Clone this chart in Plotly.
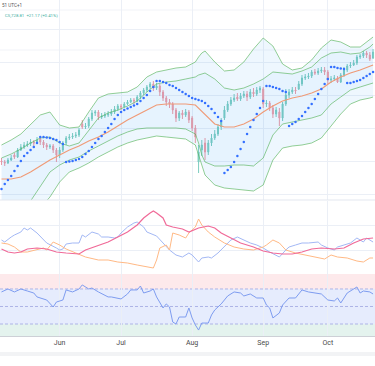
import plotly.graph_objects as go

# ---------------- data ----------------
month_ticks = [18, 37, 59, 81, 101]
month_labels = ["Jun", "Jul", "Aug", "Sep", "Oct"]

opens = [5402, 5399, 5396, 5405, 5420, 5414, 5435, 5444, 5450, 5453,
         5459, 5456, 5468, 5459, 5450, 5444, 5447, 5435, 5420, 5435,
         5456, 5471, 5474, 5477, 5480, 5513, 5504, 5507, 5528, 5546,
         5549, 5534, 5537, 5540, 5543, 5549, 5558, 5567, 5564, 5573,
         5579, 5585, 5582, 5594, 5606, 5615, 5624, 5633, 5621, 5627,
         5609, 5591, 5579, 5573, 5555, 5531, 5546, 5540, 5549, 5531,
         5501, 5399, 5435, 5456, 5429, 5456, 5471, 5483, 5504, 5531,
         5555, 5573, 5585, 5594, 5588, 5597, 5603, 5594, 5609, 5603,
         5615, 5618, 5573, 5576, 5561, 5543, 5549, 5531, 5573, 5600,
         5609, 5615, 5618, 5633, 5651, 5654, 5657, 5669, 5666, 5672,
         5675, 5669, 5645, 5648, 5651, 5639, 5660, 5675, 5687, 5690,
         5696, 5714, 5717, 5726, 5720, 5711]
closes = [5399, 5396, 5405, 5411, 5414, 5435, 5444, 5450, 5453, 5459,
          5456, 5465, 5459, 5450, 5444, 5447, 5435, 5420, 5435, 5456,
          5471, 5474, 5477, 5480, 5495, 5504, 5507, 5528, 5546, 5549,
          5534, 5537, 5540, 5543, 5549, 5558, 5567, 5564, 5573, 5579,
          5585, 5582, 5594, 5606, 5615, 5624, 5633, 5621, 5627, 5609,
          5591, 5579, 5573, 5555, 5531, 5546, 5540, 5549, 5525, 5501,
          5474, 5429, 5450, 5429, 5456, 5471, 5483, 5504, 5519, 5555,
          5573, 5585, 5591, 5588, 5597, 5603, 5594, 5609, 5603, 5615,
          5621, 5573, 5576, 5561, 5543, 5555, 5531, 5573, 5600, 5609,
          5615, 5612, 5633, 5651, 5654, 5657, 5669, 5666, 5672, 5675,
          5669, 5645, 5648, 5651, 5639, 5660, 5675, 5687, 5690, 5696,
          5714, 5717, 5726, 5720, 5707.64, 5728.81]
highs = [5411, 5405, 5411, 5420, 5426, 5441, 5453, 5459, 5462, 5468,
         5465, 5474, 5471, 5465, 5456, 5453, 5453, 5441, 5444, 5462,
         5477, 5483, 5486, 5489, 5501, 5525, 5516, 5534, 5555, 5555,
         5555, 5546, 5549, 5552, 5558, 5567, 5573, 5573, 5579, 5585,
         5591, 5591, 5600, 5612, 5621, 5630, 5639, 5642, 5636, 5633,
         5615, 5597, 5588, 5579, 5561, 5552, 5555, 5558, 5555, 5537,
         5510, 5450, 5465, 5471, 5465, 5483, 5495, 5513, 5531, 5567,
         5582, 5594, 5603, 5606, 5606, 5612, 5612, 5618, 5621, 5624,
         5627, 5624, 5585, 5582, 5570, 5564, 5561, 5579, 5618, 5618,
         5624, 5624, 5642, 5660, 5663, 5666, 5675, 5678, 5681, 5684,
         5684, 5675, 5657, 5660, 5657, 5666, 5684, 5693, 5699, 5705,
         5720, 5723, 5732, 5732, 5729, 5738]
lows = [5390, 5387, 5393, 5402, 5408, 5411, 5432, 5438, 5444, 5447,
        5447, 5453, 5450, 5441, 5435, 5438, 5426, 5399, 5411, 5429,
        5450, 5465, 5468, 5471, 5474, 5498, 5498, 5501, 5522, 5537,
        5525, 5528, 5531, 5534, 5537, 5543, 5552, 5555, 5564, 5570,
        5576, 5573, 5579, 5588, 5600, 5609, 5618, 5612, 5615, 5597,
        5582, 5567, 5561, 5543, 5519, 5522, 5528, 5534, 5516, 5492,
        5456, 5366, 5417, 5405, 5420, 5447, 5465, 5477, 5495, 5525,
        5549, 5567, 5579, 5582, 5582, 5591, 5582, 5588, 5594, 5597,
        5606, 5561, 5564, 5552, 5531, 5534, 5507, 5522, 5567, 5591,
        5603, 5603, 5615, 5627, 5645, 5648, 5651, 5660, 5660, 5666,
        5660, 5633, 5636, 5642, 5636, 5636, 5654, 5669, 5681, 5687,
        5690, 5708, 5711, 5711, 5702, 5708]

sar = [5318, 5333, 5345, 5357, 5372, 5387, 5402, 5417, 5426, 5435,
       5444, 5456, 5474, 5474, 5472.5, 5471, 5468, 5465, 5459, 5453,
       5399, 5400.5, 5402, 5405, 5408, 5414, 5423, 5432, 5444, 5456,
       5468, 5477, 5489, 5501, 5513, 5528, 5540, 5549, 5555, 5559.5,
       5564, 5568.5, 5573, 5582, 5591, 5600, 5612, 5624, 5642, 5642,
       5639, 5636, 5630, 5627, 5621, 5615, 5609, 5603, 5597, 5591,
       5588, 5585, 5582, 5576, 5567, 5558, 5546, 5534, 5522, 5366,
       5375, 5384, 5399, 5417, 5438, 5459, 5483, 5504, 5525, 5543,
       5561, 5582, 5627, 5627, 5624, 5621, 5618, 5612, 5609, 5507,
       5513, 5519, 5528, 5537, 5549, 5561, 5573, 5588, 5603, 5618,
       5633, 5648, 5684, 5684, 5681, 5679.5, 5678, 5636, 5636, 5639,
       5642, 5645, 5651, 5657, 5663, 5669]

band_idx = [0, 3, 6, 9, 12, 15, 18, 21, 24, 27, 30, 33, 36, 39, 42, 45, 48, 51, 54, 57,
            60, 61, 62, 63, 66, 69, 72, 75, 78, 81, 84, 87, 90, 93, 96, 99, 102, 105,
            108, 111, 114, 115]
bb_outer_upper = [5450, 5465, 5483, 5513, 5540, 5549, 5510, 5501, 5504, 5549, 5591, 5603,
                  5606, 5609, 5624, 5654, 5669, 5675, 5681, 5684, 5699, 5714, 5726, 5732,
                  5699, 5672, 5675, 5699, 5738, 5771, 5747, 5693, 5675, 5681, 5705, 5741,
                  5765, 5759, 5744, 5744, 5765, 5774]
bb_inner_upper = [5411, 5423, 5438, 5456, 5471, 5474, 5456, 5447, 5456, 5495, 5531, 5546,
                  5555, 5567, 5582, 5609, 5633, 5639, 5642, 5648, 5654, 5660, 5663, 5666,
                  5648, 5621, 5615, 5621, 5633, 5648, 5669, 5666, 5663, 5672, 5684, 5711,
                  5726, 5729, 5723, 5726, 5744, 5753]
bb_basis = [5348, 5348, 5354, 5369, 5387, 5405, 5420, 5435, 5447, 5462, 5474, 5489,
            5507, 5525, 5540, 5555, 5570, 5573, 5573, 5573, 5570, 5561, 5552, 5543,
            5513, 5504, 5504, 5513, 5528, 5549, 5567, 5582, 5591, 5597, 5606, 5618,
            5639, 5654, 5666, 5675, 5687, 5690]
bb_inner_lower = [5267, 5267, 5267, 5282, 5324, 5369, 5390, 5405, 5414, 5432, 5447, 5462,
                  5477, 5489, 5498, 5501, 5501, 5501, 5501, 5498, 5483, 5456, 5420, 5399,
                  5387, 5387, 5390, 5390, 5387, 5411, 5480, 5513, 5519, 5525, 5531, 5540,
                  5573, 5594, 5615, 5624, 5633, 5636]
bb_outer_lower = [5210, 5219, 5225, 5240, 5261, 5294, 5339, 5369, 5381, 5396, 5414, 5429,
                  5444, 5456, 5465, 5471, 5477, 5474, 5471, 5468, 5450, 5420, 5390, 5360,
                  5330, 5321, 5318, 5315, 5312, 5330, 5405, 5441, 5447, 5450, 5456, 5471,
                  5507, 5543, 5573, 5585, 5591, 5594]

dmi_plus_idx = [0, 1, 3, 4, 6, 7, 8, 9, 11, 13, 14, 17, 18, 19, 20, 22, 24, 25, 26, 28,
                30, 31, 33, 35, 36, 37, 39, 41, 42, 44, 45, 48, 50, 52, 54, 56, 58, 59, 61, 62,
                64, 65, 67, 69, 71, 73, 75, 77, 79, 81, 83, 85, 86, 88, 89, 91, 93, 95, 98, 99,
                101, 103, 104, 106, 108, 110, 112, 113, 115]
dmi_plus = [24.0, 23.2, 25.2, 26.0, 27.2, 28.8, 28.0, 28.8, 26.8, 24.0,
            22.8, 20.8, 20.0, 20.4, 22.4, 22.8, 22.8, 26.0, 25.2, 27.2,
            26.4, 25.2, 25.2, 24.8, 25.2, 26.8, 29.2, 30.8, 31.2, 29.2,
            27.2, 25.6, 22.8, 20.0, 18.0, 17.2, 18.8, 18.0, 15.2, 16.8,
            17.2, 16.8, 18.8, 21.6, 24.0, 25.2, 24.0, 22.8, 22.0, 20.8,
            19.2, 18.0, 17.2, 20.0, 21.2, 22.0, 22.8, 22.8, 23.2, 22.0,
            20.8, 20.0, 21.2, 22.0, 22.8, 24.8, 23.2, 24.8, 23.2]

adx_idx = [0, 2, 4, 6, 8, 11, 14, 17, 20, 24, 26, 30, 33, 36, 39, 42, 44, 46, 47, 48,
           50, 51, 53, 56, 58, 61, 64, 66, 68, 71, 74, 78, 81, 84, 87, 90, 93, 96, 99, 103,
           106, 109, 112, 115]
adx = [20.4, 19.2, 18.8, 19.2, 20.4, 20.8, 20.4, 19.2, 18.8, 18.4,
       20.0, 22.0, 23.2, 25.2, 27.2, 30.0, 32.8, 34.8, 35.6, 34.8,
       32.8, 30.0, 29.2, 28.4, 27.2, 28.8, 29.6, 28.8, 26.8, 24.8,
       22.8, 21.2, 19.6, 18.8, 18.4, 18.4, 19.2, 20.4, 20.8, 20.4,
       20.8, 22.8, 24.4, 24.8]

dmi_minus_idx = [0, 2, 4, 6, 8, 11, 13, 14, 16, 18, 20, 23, 26, 30, 33, 36, 39, 42, 45, 47,
                 48, 49, 51, 52, 53, 55, 57, 58, 60, 61, 62, 64, 66, 69, 72, 75, 78, 81, 82, 84,
                 86, 88, 91, 95, 98, 100, 102, 104, 107, 110, 112, 114, 115]
dmi_minus = [22.8, 22.4, 21.2, 19.2, 19.2, 20.0, 20.8, 20.0, 23.2, 22.0,
             20.4, 18.8, 17.2, 16.0, 16.0, 15.2, 14.8, 14.0, 13.2, 12.8,
             16.0, 20.8, 22.0, 20.0, 26.8, 26.0, 24.8, 26.8, 29.2, 32.4,
             30.0, 27.2, 25.2, 22.8, 21.2, 20.4, 20.0, 21.2, 22.0, 24.0,
             22.8, 20.0, 18.8, 17.6, 16.8, 16.4, 18.0, 17.2, 16.8, 15.6,
             15.2, 16.8, 16.8]

rsi_idx = [0, 2, 4, 6, 8, 10, 11, 12, 14, 16, 17, 19, 20, 22, 24, 25, 27, 28, 30, 33,
           34, 37, 39, 40, 42, 43, 44, 46, 47, 48, 49, 50, 51, 52, 53, 54, 55, 57, 58, 59,
           60, 61, 62, 64, 65, 66, 68, 70, 72, 74, 75, 77, 79, 81, 82, 83, 84, 86, 87, 89,
           91, 93, 95, 97, 99, 101, 103, 104, 105, 107, 108, 110, 111, 112, 114, 115]
rsi = [66.6, 70.0, 66.6, 70.0, 67.7, 65.4, 60.9, 59.7, 57.4, 49.4,
       55.1, 57.4, 68.9, 66.6, 70.0, 74.6, 70.0, 71.1, 66.6, 60.9,
       60.9, 58.6, 64.3, 68.9, 68.9, 73.4, 65.4, 67.7, 70.0, 60.9,
       54.0, 48.3, 52.9, 49.4, 32.3, 30.0, 38.0, 38.0, 48.3, 36.9,
       28.9, 23.1, 31.1, 31.1, 40.3, 46.0, 52.9, 62.0, 66.6, 65.4,
       62.0, 64.3, 59.7, 59.7, 51.7, 48.3, 36.9, 42.6, 51.7, 59.7,
       59.7, 68.9, 66.6, 65.4, 64.3, 57.4, 56.3, 59.7, 54.0, 65.4,
       67.7, 72.3, 65.4, 67.7, 66.6, 64.3]
rsi_levels = [70, 50, 30]

price_grid = [5303, 5402, 5501, 5600, 5699, 5798]
header_time = "51 UTC+1"
header_quote = "C5,728.81  +21.17 (+0.41%)"

# ---------------- styling ----------------
W, H = 375, 366
GRID = "#EBEFF6"
GREEN = "rgba(76,175,80,0.6)"
ORANGE = "#F09A76"
UP = "#7CCDBF"
DOWN = "#F29AA2"
FONT = "Roboto"


def py(px):
    return 1 - px / H


bars = list(range(len(closes)))
XR = [-0.46, 115.6]

fig = go.Figure()

# Bollinger-type envelopes
fig.add_trace(go.Scatter(x=band_idx, y=bb_outer_lower, mode="lines",
                         line=dict(color=GREEN, width=1), hoverinfo="skip"))
fig.add_trace(go.Scatter(x=band_idx, y=bb_outer_upper, mode="lines",
                         line=dict(color=GREEN, width=1), fill="tonexty",
                         fillcolor="rgba(33,150,243,0.075)", hoverinfo="skip"))
fig.add_trace(go.Scatter(x=band_idx, y=bb_inner_lower, mode="lines",
                         line=dict(color=GREEN, width=1), hoverinfo="skip"))
fig.add_trace(go.Scatter(x=band_idx, y=bb_inner_upper, mode="lines",
                         line=dict(color=GREEN, width=1), fill="tonexty",
                         fillcolor="rgba(33,150,243,0.035)", hoverinfo="skip"))

fig.add_trace(go.Candlestick(
    x=bars, open=opens, high=highs, low=lows, close=closes,
    increasing=dict(line=dict(color=UP, width=1), fillcolor=UP),
    decreasing=dict(line=dict(color=DOWN, width=1), fillcolor=DOWN),
    whiskerwidth=0, hoverinfo="skip"))

fig.add_trace(go.Scatter(x=band_idx, y=bb_basis, mode="lines",
                         line=dict(color=ORANGE, width=1.1), hoverinfo="skip"))
fig.add_trace(go.Scatter(x=bars, y=sar, mode="markers",
                         marker=dict(color="#3370FF", size=2.5, line=dict(width=0)),
                         hoverinfo="skip"))

# DMI pane
fig.add_trace(go.Scatter(x=dmi_plus_idx, y=dmi_plus, mode="lines", xaxis="x2", yaxis="y2",
                         line=dict(color="#A3B8F5", width=1), hoverinfo="skip"))
fig.add_trace(go.Scatter(x=dmi_minus_idx, y=dmi_minus, mode="lines", xaxis="x2", yaxis="y2",
                         line=dict(color="#FFB985", width=1), hoverinfo="skip"))
fig.add_trace(go.Scatter(x=adx_idx, y=adx, mode="lines", xaxis="x2", yaxis="y2",
                         line=dict(color="#F06A98", width=1.2), hoverinfo="skip"))

# RSI pane
fig.add_trace(go.Scatter(x=rsi_idx, y=rsi, mode="lines", xaxis="x3", yaxis="y3",
                         line=dict(color="#7E9CF0", width=1), hoverinfo="skip"))

shapes = [
    dict(type="rect", xref="paper", yref="y3", x0=0, x1=1, y0=70, y1=87.1,
         fillcolor="#FDE9EB", line=dict(width=0), layer="below"),
    dict(type="rect", xref="paper", yref="y3", x0=0, x1=1, y0=30, y1=70,
         fillcolor="#E6ECFD", line=dict(width=0), layer="below"),
    dict(type="rect", xref="paper", yref="y3", x0=0, x1=1, y0=16.3, y1=30,
         fillcolor="#E4F3EE", line=dict(width=0), layer="below"),
]
for lv in rsi_levels:
    shapes.append(dict(type="line", xref="paper", yref="y3", x0=0, x1=1, y0=lv, y1=lv,
                       line=dict(color="#AEB4E6", width=1, dash="3px,2px"), layer="below"))
# pane separators & faint header rules
shapes.append(dict(type="line", xref="paper", yref="paper", x0=0, x1=1, y0=py(200), y1=py(200),
                   line=dict(color="#E3E7EF", width=1)))
for yy in (10, 50):
    shapes.append(dict(type="line", xref="paper", yref="paper", x0=0, x1=1, y0=py(yy), y1=py(yy),
                       line=dict(color="#F1F3F8", width=1), layer="below"))
shapes.append(dict(type="rect", xref="paper", yref="paper", x0=0, x1=1, y0=py(356), y1=py(352),
                   fillcolor="#F2F3F5", line=dict(width=0)))

annotations = [
    dict(text=header_time, xref="paper", yref="paper", x=0.0, y=py(5), xanchor="left",
         yanchor="middle", showarrow=False, font=dict(family=FONT, size=4.6, color="#555")),
    dict(text=header_quote, xref="paper", yref="paper", x=3 / W, y=py(15), xanchor="left",
         yanchor="middle", showarrow=False, font=dict(family=FONT, size=4.3, color="#3FAFA3")),
]

xcommon = dict(range=XR, tickvals=month_ticks, showgrid=True, gridcolor=GRID, gridwidth=1,
               zeroline=False, ticks="", fixedrange=True)

fig.update_layout(
    width=W, height=H, margin=dict(l=0, r=0, t=0, b=0),
    paper_bgcolor="white", plot_bgcolor="white", showlegend=False,
    font=dict(family=FONT), boxgap=0.55,
    shapes=shapes, annotations=annotations,
    xaxis=dict(domain=[0, 1], anchor="y", showticklabels=False,
               rangeslider=dict(visible=False), **xcommon),
    yaxis=dict(domain=[py(200), 1], anchor="x", range=[5285, 5885], tickvals=price_grid,
               showticklabels=False, showgrid=True, gridcolor=GRID, zeroline=False),
    xaxis2=dict(domain=[0, 1], anchor="y2", showticklabels=False, **xcommon),
    yaxis2=dict(domain=[py(274), py(201)], anchor="x2", range=[10.4, 39.6], tickvals=[20, 30],
                showticklabels=False, showgrid=True, gridcolor=GRID, zeroline=False),
    xaxis3=dict(domain=[0, 1], anchor="y3", ticktext=month_labels, showticklabels=True,
                tickfont=dict(family=FONT, size=7, color="#4A4A4A"),
                showline=True, linecolor="#CDD0D6", linewidth=1, **xcommon),
    yaxis3=dict(domain=[py(336), py(274)], anchor="x3", range=[16.3, 87.1],
                showticklabels=False, showgrid=False, zeroline=False),
)

fig.write_html("out.html", config={"displayModeBar": False},
               post_script="document.body.style.margin='0';document.body.style.padding='0';"
                           "document.body.style.overflow='hidden';")
